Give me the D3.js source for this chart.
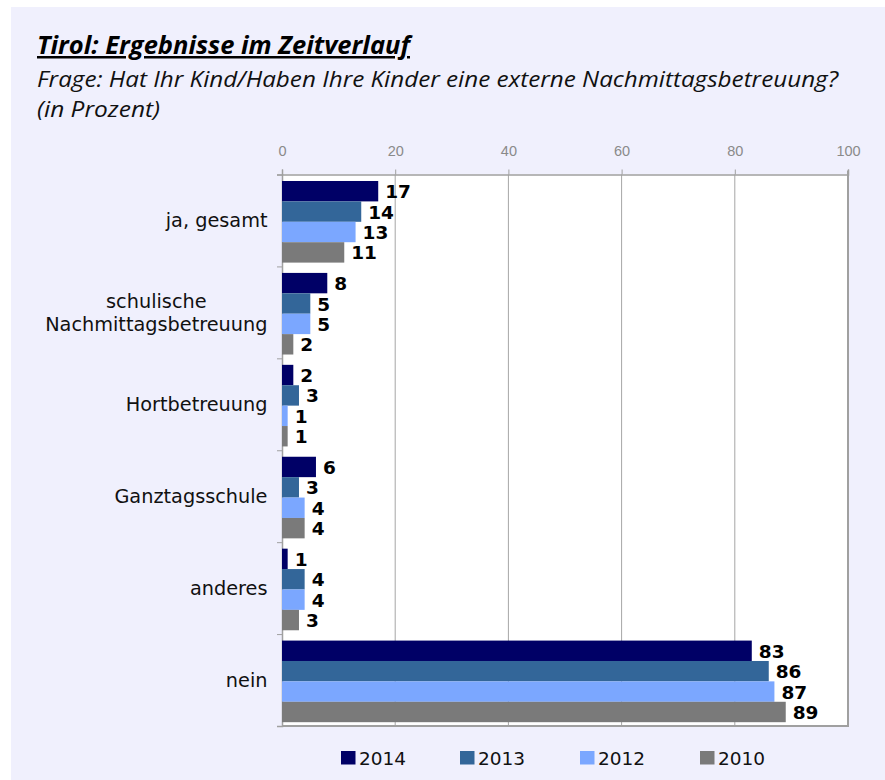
<!DOCTYPE html>
<html><head><meta charset="utf-8">
<script src="https://cdn.jsdelivr.net/npm/d3@7"></script>
<style>
html,body{margin:0;padding:0;background:#fff;}
svg{display:block;}
</style></head>
<body>
<script>
const categories = [["ja, gesamt"], ["schulische", "Nachmittagsbetreuung"], ["Hortbetreuung"], ["Ganztagsschule"], ["anderes"], ["nein"]];
const seriesNames = ["2014", "2013", "2012", "2010"];
const values2014 = [17, 8, 2, 6, 1, 83];
const values2013 = [14, 5, 3, 3, 4, 86];
const values2012 = [13, 5, 1, 4, 4, 87];
const values2010 = [11, 2, 1, 4, 3, 89];
const seriesColors = ["#000066", "#336699", "#7ba7ff", "#7a7a7a"];
const xTicks = [0, 20, 40, 60, 80, 100];
const title = "Tirol: Ergebnisse im Zeitverlauf";
const subtitle1 = "Frage: Hat Ihr Kind/Haben Ihre Kinder eine externe Nachmittagsbetreuung?";
const subtitle2 = "(in Prozent)";

const series = [values2014, values2013, values2012, values2010];
const W = 885, H = 780;
const svg = d3.select("body").append("svg").attr("width", W).attr("height", H);

svg.append("rect").attr("x", 11).attr("y", 7).attr("width", W - 11).attr("height", H - 7).attr("fill", "#f0f0fd");

// Titles
svg.append("text").attr("x", 37).attr("y", 54)
  .attr("font-family", "Open Sans").attr("font-style", "italic").attr("font-weight", "bold")
  .attr("font-size", 25).attr("text-decoration", "underline").attr("fill", "#000")
  .attr("textLength", 373).attr("lengthAdjust", "spacingAndGlyphs").text(title);
svg.append("text").attr("x", 37).attr("y", 87)
  .attr("font-family", "Open Sans").attr("font-style", "italic")
  .attr("font-size", 22).attr("fill", "#111")
  .attr("textLength", 801).attr("lengthAdjust", "spacingAndGlyphs").text(subtitle1);
svg.append("text").attr("x", 37).attr("y", 116.5)
  .attr("font-family", "Open Sans").attr("font-style", "italic")
  .attr("font-size", 22).attr("fill", "#111")
  .attr("textLength", 123).attr("lengthAdjust", "spacingAndGlyphs").text(subtitle2);

const pLeft = 282, pRight = 848, pTop = 174.5, pBottom = 726;
const x = d3.scaleLinear().domain([0, 100]).range([pLeft, pRight]);
const y = d3.scaleBand().domain(d3.range(categories.length)).range([pTop, pBottom]);
const inner = d3.scaleBand().domain(d3.range(seriesNames.length)).range([6.5, 6.5 + 81.6]);

// plot background
svg.append("rect").attr("x", pLeft).attr("y", pTop).attr("width", pRight - pLeft).attr("height", pBottom - pTop).attr("fill", "#fff");

// gridlines
svg.append("g").selectAll("line").data(xTicks.slice(1)).join("line")
  .attr("x1", d => x(d)).attr("x2", d => x(d)).attr("y1", pTop).attr("y2", pBottom)
  .attr("stroke", "#a6a6a6").attr("stroke-width", 1);

// top axis
const xAxis = d3.axisTop(x).tickValues(xTicks).tickSize(5).tickPadding(14);
const gx = svg.append("g").attr("transform", `translate(0,${pTop})`).call(xAxis);
gx.select(".domain").attr("stroke", "#a0a0a0").attr("stroke-width", 1.5);
gx.selectAll(".tick line").attr("stroke", "#a0a0a0");
gx.selectAll(".tick text").attr("font-family", "Liberation Sans").attr("font-size", 14.5).attr("fill", "#8a8a8a");

// left axis
const yEdge = d3.scaleLinear().domain([0, categories.length]).range([pTop, pBottom]);
const gy = svg.append("g").attr("transform", `translate(${pLeft},0)`)
  .call(d3.axisLeft(yEdge).ticks(categories.length).tickSize(5).tickFormat(""));
gy.select(".domain").attr("stroke", "#a0a0a0").attr("stroke-width", 1.5);
gy.selectAll(".tick line").attr("stroke", "#a0a0a0");

// right & bottom borders
svg.append("line").attr("x1", pRight).attr("x2", pRight).attr("y1", pTop - 4).attr("y2", pBottom).attr("stroke", "#a0a0a0").attr("stroke-width", 2);
svg.append("line").attr("x1", pLeft).attr("x2", pRight + 1).attr("y1", pBottom).attr("y2", pBottom).attr("stroke", "#a0a0a0").attr("stroke-width", 2);

// bars
series.forEach((vals, si) => {
  const g = svg.append("g");
  g.selectAll("rect").data(vals).join("rect")
    .attr("x", x(0)).attr("y", (d, i) => y(i) + inner(si))
    .attr("width", d => x(d) - x(0)).attr("height", inner.bandwidth())
    .attr("fill", seriesColors[si]);
  g.selectAll("text").data(vals).join("text")
    .attr("x", d => x(d) + 7).attr("y", (d, i) => y(i) + inner(si) + inner.bandwidth() / 2 + 7)
    .attr("font-family", "DejaVu Sans").attr("font-weight", "bold").attr("font-size", 18.5)
    .attr("fill", "#000").text(d => d);
});

// category labels
categories.forEach((lines, i) => {
  const cy = y(i) + y.bandwidth() / 2;
  const lh = 23;
  const t = svg.append("text").attr("font-family", "DejaVu Sans").attr("font-size", 19.3).attr("fill", "#111");
  const spans = lines.map((l, k) => t.append("tspan").text(l).attr("y", cy + 7 + (k - (lines.length - 1) / 2) * lh));
  const widths = spans.map(s => s.node().getComputedTextLength());
  const maxW = d3.max(widths);
  const cx = 267.5 - maxW / 2;
  spans.forEach(s => s.attr("x", cx).attr("text-anchor", "middle"));
});

// legend
const legX = [341, 460, 580, 700];
seriesNames.forEach((n, i) => {
  svg.append("rect").attr("x", legX[i]).attr("y", 751).attr("width", 14.5).attr("height", 13.5).attr("fill", seriesColors[i]);
  svg.append("text").attr("x", legX[i] + 18).attr("y", 764.5).attr("font-family", "DejaVu Sans").attr("font-size", 18.5).attr("fill", "#111").text(n);
});
</script>
</body></html>
